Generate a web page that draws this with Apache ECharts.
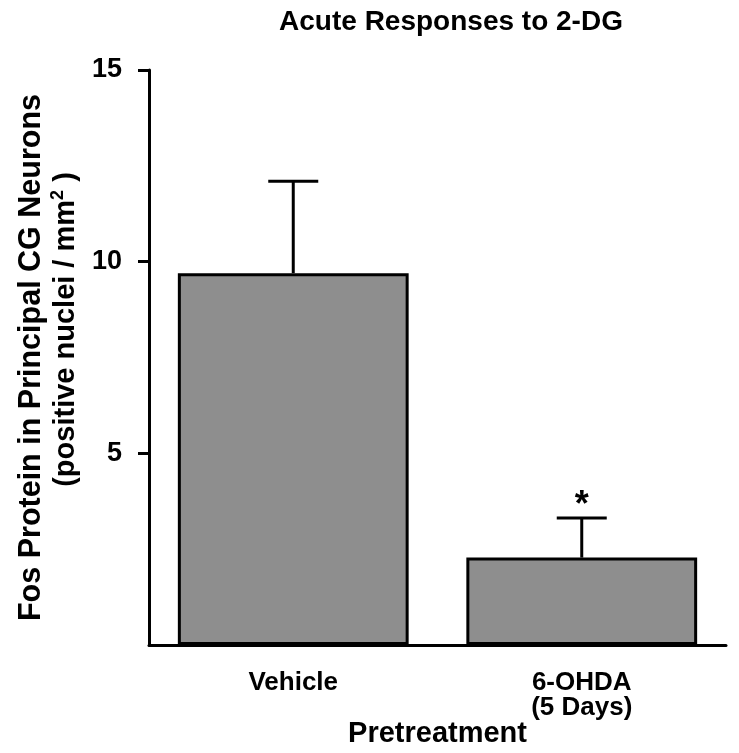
<!DOCTYPE html>
<html>
<head>
<meta charset="utf-8">
<script src="https://cdn.jsdelivr.net/npm/echarts@6/dist/echarts.min.js"></script>
<style>html,body{margin:0;padding:0;background:#fff}#c{width:739px;height:753px}</style>
</head>
<body>
<div id="c"></div>
<script>
const categories = ['Vehicle', '6-OHDA\n(5 Days)'];
const means = [9.7, 2.28];
const errTops = [12.1, 3.31];
const sigMarks = ['', '*'];
const yTicks = [5, 10, 15];

const FONT = '"Liberation Sans", Arial, Helvetica, sans-serif';
const chart = echarts.init(document.getElementById('c'));

chart.setOption({
  backgroundColor: '#ffffff',
  animation: false,
  title: {
    text: 'Acute Responses to 2-DG',
    left: 446,
    top: 3,
    textAlign: 'center',
    textStyle: { fontFamily: FONT, fontWeight: 'bold', fontSize: 28, color: '#000' }
  },
  grid: { left: 149, right: 13, top: 70, bottom: 108, containLabel: false, outerBoundsMode: 'none' },
  xAxis: {
    type: 'category',
    data: categories,
    name: 'Pretreatment',
    nameLocation: 'middle',
    nameGap: 74,
    nameMoveOverlap: false,
    nameTextStyle: { fontFamily: FONT, fontWeight: 'bold', fontSize: 29, color: '#000' },
    axisLine: { lineStyle: { color: '#000', width: 3 } },
    axisTick: { show: false },
    axisLabel: { margin: 25, fontFamily: FONT, fontWeight: 'bold', fontSize: 26, color: '#000', lineHeight: 25 }
  },
  yAxis: {
    type: 'value',
    min: 0, max: 15, interval: 5,
    name: '{a|Fos Protein in Principal CG Neurons}\n{b|(positive nuclei / mm}{s|2}{c| )}',
    nameLocation: 'middle',
    nameGap: 66,
    nameRotate: 90,
    nameMoveOverlap: false,
    nameTextStyle: {
      fontFamily: FONT, fontWeight: 'bold', color: '#000', lineHeight: 34,
      rich: {
        a: { fontFamily: FONT, fontWeight: 'bold', fontSize: 30.5, color: '#000', lineHeight: 34, padding: [0, 0, 0, 0] },
        b: { fontFamily: FONT, fontWeight: 'bold', fontSize: 29, color: '#000', lineHeight: 34, padding: [0, 0, 0, 56] },
        s: { fontFamily: FONT, fontWeight: 'bold', fontSize: 18, color: '#000', lineHeight: 34, verticalAlign: 'top' },
        c: { fontFamily: FONT, fontWeight: 'bold', fontSize: 29, color: '#000', lineHeight: 34 }
      }
    },
    splitLine: { show: false },
    axisLine: { show: true, lineStyle: { color: '#000', width: 3 } },
    axisTick: { show: true, length: 11, customValues: yTicks, lineStyle: { color: '#000', width: 3 } },
    axisLabel: { margin: 27, customValues: yTicks, fontFamily: FONT, fontWeight: 'bold', fontSize: 27, color: '#000' }
  },
  series: [
    {
      type: 'bar',
      data: means,
      barWidth: '80%',
      itemStyle: { color: '#8e8e8e', borderColor: '#000', borderWidth: 3 },
      z: 2
    },
    {
      type: 'custom',
      data: categories.map((c, i) => [i, means[i], errTops[i]]),
      encode: { x: 0, y: [1, 2] },
      z: 3,
      renderItem: function (params, api) {
        const i = api.value(0);
        const pMean = api.coord([i, api.value(1)]);
        const pTop = api.coord([i, api.value(2)]);
        const half = 25;
        const style = { stroke: '#000', lineWidth: 3 };
        const children = [
          { type: 'line', shape: { x1: pMean[0], y1: pMean[1], x2: pTop[0], y2: pTop[1] }, style: style },
          { type: 'line', shape: { x1: pTop[0] - half, y1: pTop[1], x2: pTop[0] + half, y2: pTop[1] }, style: style }
        ];
        if (sigMarks[i]) {
          children.push({
            type: 'text',
            style: {
              text: sigMarks[i], x: pTop[0], y: pTop[1] + 6,
              align: 'center', verticalAlign: 'bottom',
              fontFamily: FONT, fontWeight: 'bold', fontSize: 36, fill: '#000'
            }
          });
        }
        return { type: 'group', children: children };
      }
    }
  ]
});
</script>
</body>
</html>
